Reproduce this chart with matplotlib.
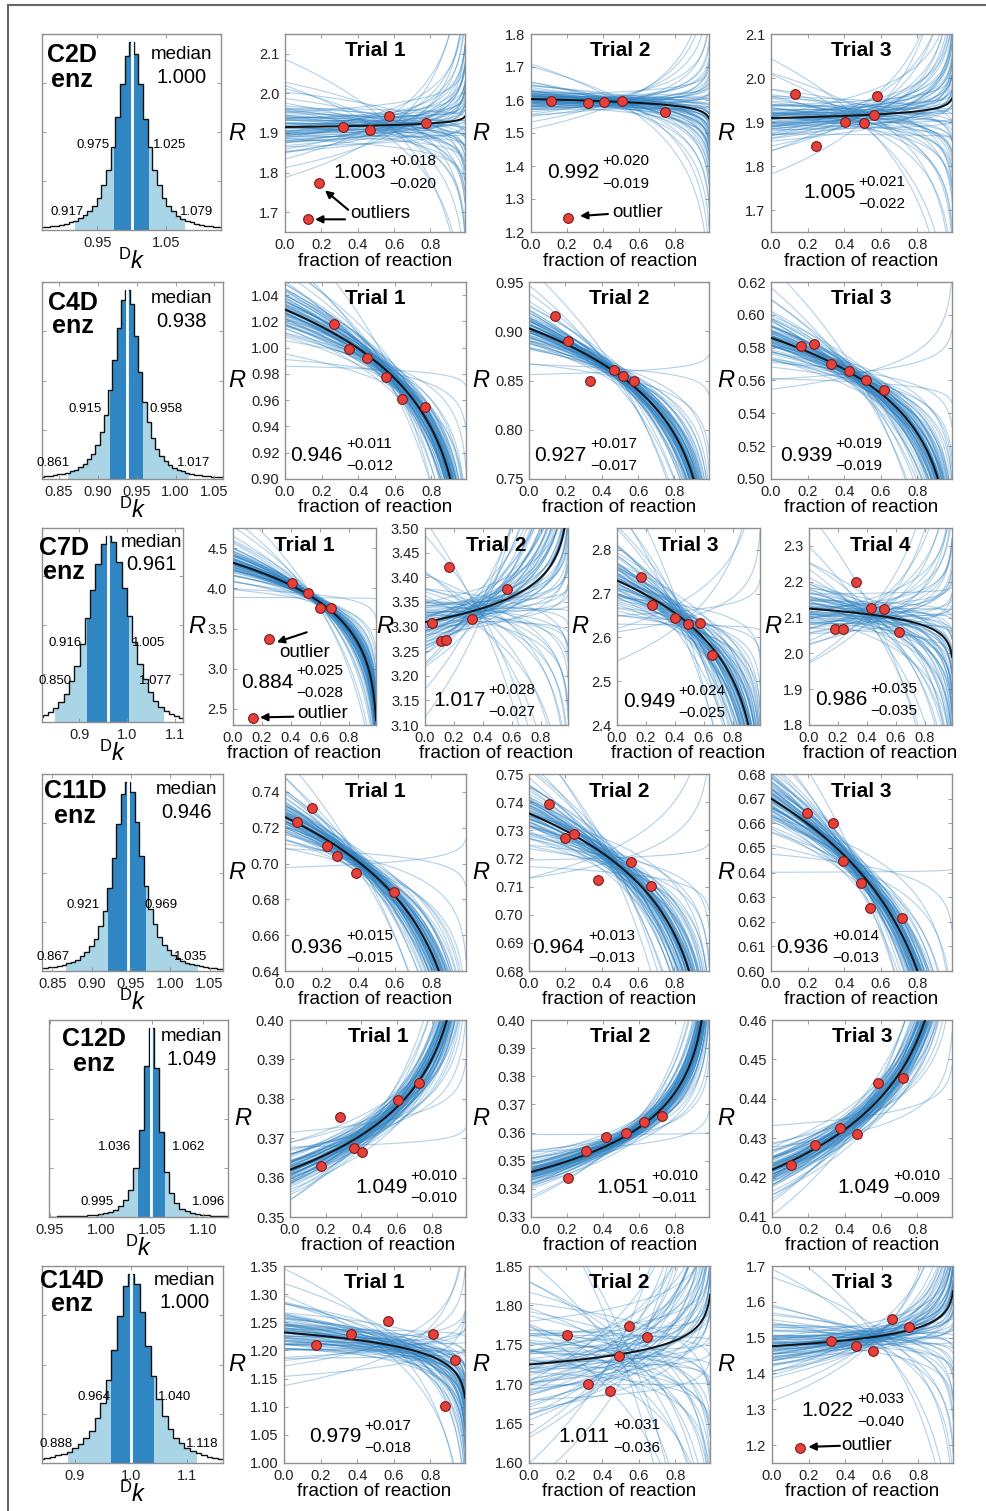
import numpy as np
import matplotlib
matplotlib.use("Agg")
import matplotlib.pyplot as plt
from matplotlib.collections import LineCollection
from matplotlib.lines import Line2D

plt.rcParams['font.family'] = ['Liberation Sans', 'DejaVu Sans']
plt.rcParams['mathtext.fontset'] = 'custom'
plt.rcParams['mathtext.rm'] = 'Liberation Sans'
plt.rcParams['mathtext.it'] = 'Liberation Sans:italic'
plt.rcParams['mathtext.bf'] = 'Liberation Sans:bold'

# ------------------------------------------------------------------ data
compounds = ['C2D', 'C4D', 'C7D', 'C11D', 'C12D', 'C14D']
hist_median = [1.000, 0.938, 0.961, 0.946, 1.049, 1.000]
hist_inner = [(0.975, 1.025), (0.915, 0.958), (0.916, 1.005),
              (0.921, 0.969), (1.036, 1.062), (0.964, 1.040)]
hist_outer = [(0.917, 1.079), (0.861, 1.017), (0.850, 1.077),
              (0.867, 1.035), (0.995, 1.096), (0.888, 1.118)]
hist_start = [0.8402, 0.81425, 0.8125, 0.8271, 0.9465, 0.795]
hist_width = [0.0068, 0.0055, 0.011, 0.0058, 0.005, 0.010]

hist_C2D = [0.8, 0.9, 1.0, 1.2, 1.4, 1.6, 1.9, 2.3, 2.8, 3.3, 4.0, 4.9, 6.2, 7.8, 10, 13, 17,
            24, 32, 44, 60, 78, 93, 100, 94, 78, 59, 44, 32, 24, 17, 13, 10, 7.7, 6.1, 4.9,
            4.0, 3.3, 2.7, 2.3, 1.9, 1.6, 1.4, 1.2, 1.05, 0.9, 0.8]
hist_C4D = [0.9, 1.0, 1.2, 1.4, 1.7, 2.0, 2.4, 2.8, 3.4, 4.1, 5.0, 6.3, 8.0, 10.5, 13.5, 18,
            25, 34, 47, 63, 80, 95, 100, 93, 76, 57, 41, 30, 22, 16, 12, 9.5, 7.5, 6.0, 4.8,
            4.0, 3.3, 2.7, 2.3, 1.9, 1.6, 1.4, 1.2, 1.05, 0.9, 0.8, 0.72, 0.64]
hist_C7D = [2.8, 3.9, 5.5, 7.7, 11, 15, 22, 30, 42, 56, 71, 85, 96, 100, 97, 86, 72, 57, 43,
            31, 23, 16, 11.5, 8.2, 5.9, 4.2, 3.0, 2.2]
hist_C11D = [1.2, 1.4, 1.6, 1.9, 2.3, 2.7, 3.3, 4.0, 4.9, 6.1, 7.8, 10, 13, 17, 24, 32, 44, 60,
             78, 94, 100, 95, 79, 61, 45, 33, 25, 18, 14, 11, 8.5, 6.8, 5.5, 4.5, 3.7, 3.0,
             2.5, 2.1, 1.8, 1.5, 1.3, 1.1, 0.95]
hist_C12D = [0.22, 0.24, 0.27, 0.3, 0.36, 0.44, 0.55, 0.68, 0.85, 1.1, 1.4, 1.9, 2.7, 3.8,
             5.6, 8.8, 14.5, 26, 46, 80, 100, 79, 45, 24, 12.5, 7.3, 4.5, 3.0, 2.1, 1.5, 1.1,
             0.85, 0.68, 0.54, 0.44, 0.36]
hist_C14D = [1.2, 1.4, 1.6, 1.9, 2.3, 2.7, 3.3, 4.0, 4.9, 6.1, 7.8, 10, 13, 17, 24, 32, 44, 60,
             78, 94, 100, 95, 80, 62, 46, 34, 25, 18, 13.5, 10.5, 8.2, 6.4, 5.1, 4.2, 3.4,
             2.8, 2.3, 1.9, 1.6, 1.4, 1.2]
hist_heights = [hist_C2D, hist_C4D, hist_C7D, hist_C11D, hist_C12D, hist_C14D]

# measured points (fraction of reaction, R) per trial
C2D_f = [[0.127, 0.188, 0.321, 0.47, 0.57, 0.778],
         [0.111, 0.206, 0.317, 0.406, 0.506, 0.745],
         [0.134, 0.248, 0.404, 0.508, 0.563, 0.582]]
C2D_R = [[1.682, 1.773, 1.915, 1.908, 1.942, 1.924],
         [1.597, 1.242, 1.591, 1.594, 1.597, 1.564],
         [1.963, 1.846, 1.900, 1.897, 1.915, 1.958]]
C4D_f = [[0.268, 0.350, 0.449, 0.552, 0.640, 0.766],
         [0.143, 0.215, 0.336, 0.468, 0.517, 0.578],
         [0.164, 0.235, 0.328, 0.427, 0.52, 0.618]]
C4D_R = [[1.018, 0.999, 0.992, 0.978, 0.961, 0.955],
         [0.9155, 0.890, 0.849, 0.861, 0.855, 0.849],
         [0.581, 0.582, 0.570, 0.566, 0.560, 0.554]]
C7D_f = [[0.139, 0.249, 0.408, 0.519, 0.605, 0.677],
         [0.048, 0.111, 0.145, 0.166, 0.325, 0.568],
         [0.165, 0.24, 0.40, 0.49, 0.575, 0.655],
         [0.18, 0.235, 0.325, 0.43, 0.52, 0.623]]
C7D_R = [[2.387, 3.375, 4.068, 3.944, 3.760, 3.760],
         [3.307, 3.271, 3.272, 3.421, 3.315, 3.376],
         [2.739, 2.674, 2.644, 2.631, 2.634, 2.56],
         [2.067, 2.069, 2.200, 2.128, 2.125, 2.061]]
C11D_f = [[0.066, 0.148, 0.23, 0.284, 0.388, 0.596],
          [0.11, 0.2, 0.25, 0.38, 0.56, 0.67],
          [0.197, 0.339, 0.394, 0.492, 0.541, 0.717]]
C11D_R = [[0.723, 0.731, 0.710, 0.704, 0.695, 0.684],
          [0.7393, 0.7273, 0.7287, 0.7123, 0.7187, 0.7102],
          [0.6642, 0.6601, 0.6447, 0.6357, 0.6256, 0.6215]]
C12D_f = [[0.174, 0.281, 0.360, 0.405, 0.607, 0.726],
          [0.206, 0.306, 0.417, 0.528, 0.628, 0.729],
          [0.105, 0.237, 0.374, 0.468, 0.583, 0.72]]
C12D_R = [[0.363, 0.3754, 0.3675, 0.3665, 0.3797, 0.384],
          [0.3439, 0.3535, 0.3584, 0.3599, 0.3638, 0.3659],
          [0.4232, 0.4283, 0.4326, 0.4311, 0.444, 0.4453]]
C14D_f = [[0.175, 0.367, 0.569, 0.815, 0.88, 0.935],
          [0.21, 0.324, 0.443, 0.491, 0.547, 0.647],
          [0.151, 0.323, 0.461, 0.554, 0.656, 0.749]]
C14D_R = [[1.210, 1.229, 1.252, 1.229, 1.101, 1.183],
          [1.762, 1.700, 1.692, 1.736, 1.774, 1.760],
          [1.192, 1.492, 1.477, 1.463, 1.553, 1.529]]

# fitted KIE (median, +err, -err) and fitted initial ratio R0 per trial
C2D_kie = [1.003, 0.992, 1.005];  C2D_plus = [0.018, 0.020, 0.021];  C2D_minus = [0.020, 0.019, 0.022]
C4D_kie = [0.946, 0.927, 0.939];  C4D_plus = [0.011, 0.017, 0.019];  C4D_minus = [0.012, 0.017, 0.019]
C7D_kie = [0.884, 1.017, 0.949, 0.986]; C7D_plus = [0.025, 0.028, 0.024, 0.035]; C7D_minus = [0.028, 0.027, 0.025, 0.035]
C11D_kie = [0.936, 0.964, 0.936]; C11D_plus = [0.015, 0.013, 0.014]; C11D_minus = [0.015, 0.013, 0.013]
C12D_kie = [1.049, 1.051, 1.049]; C12D_plus = [0.010, 0.010, 0.010]; C12D_minus = [0.010, 0.011, 0.009]
C14D_kie = [0.979, 1.011, 1.022]; C14D_plus = [0.017, 0.031, 0.033]; C14D_minus = [0.018, 0.036, 0.040]
C2D_R0 = [1.915, 1.603, 1.909]
C4D_R0 = [1.029, 0.903, 0.586]
C7D_R0 = [4.318, 3.309, 2.73, 2.125]
C11D_R0 = [0.726, 0.736, 0.670]
C12D_R0 = [0.362, 0.346, 0.422]
C14D_R0 = [1.232, 1.725, 1.476]

# posterior draws (standardised KIE offsets and R-level offsets)
ens_z_half = [0.014, 0.041, 0.068, 0.095, 0.122, 0.150, 0.178, 0.206, 0.235, 0.264, 0.294,
              0.324, 0.355, 0.387, 0.420, 0.454, 0.489, 0.525, 0.563, 0.602, 0.644, 0.688,
              0.734, 0.783, 0.836, 0.893, 0.954, 1.021, 1.095, 1.178, 1.271, 1.378, 1.504,
              1.653, 1.839, 2.078, 2.406, 2.906, 3.827, 4.600]
ens_r = [0.47, -1.12, 0.05, 1.59, -0.30, -0.82, 0.91, -0.11, 2.08, -0.58, 0.24, -1.48, 0.65,
         -0.02, 1.18, -0.37, -2.50, 0.33, 0.78, -0.96, 0.14, -1.71, 1.40, -0.20, 0.54, -0.69,
         1.01, -0.08, -1.25, 0.40, 1.86, -0.51, 0.11, -0.86, 0.62, -1.32, 0.27, -0.14, 1.06,
         -0.44, -0.05, 0.96, -1.59, 0.20, -0.65, 1.25, -0.27, 0.51, -2.08, 0.86, -0.33, 0.02,
         1.48, -0.91, 0.37, -1.18, 0.69, -0.24, 2.50, -0.47, 0.08, -1.01, 1.12, -0.62, 0.44,
         -1.86, 0.17, -0.40, 1.32, -0.78, 0.58, -0.17, -1.06, 0.82, 1.71, -0.54, 0.30, -1.40,
         0.73, -0.73]
ens_z = [-v for v in reversed(ens_z_half)] + ens_z_half

all_f = [C2D_f, C4D_f, C7D_f, C11D_f, C12D_f, C14D_f]
all_R = [C2D_R, C4D_R, C7D_R, C11D_R, C12D_R, C14D_R]
all_kie = [C2D_kie, C4D_kie, C7D_kie, C11D_kie, C12D_kie, C14D_kie]
all_plus = [C2D_plus, C4D_plus, C7D_plus, C11D_plus, C12D_plus, C14D_plus]
all_minus = [C2D_minus, C4D_minus, C7D_minus, C11D_minus, C12D_minus, C14D_minus]
all_R0 = [C2D_R0, C4D_R0, C7D_R0, C11D_R0, C12D_R0, C14D_R0]

# ------------------------------------------------------------------ layout
FW, FH = 986, 1511
panel_boxes = [
    [(42, 34, 221, 230), (285, 34, 465, 232), (531, 34, 709, 232), (771, 34, 952, 232)],
    [(42, 282, 223, 479), (285, 282, 466, 479), (529, 282, 709, 479), (771, 282, 952, 479)],
    [(42, 528, 183, 722), (233, 528, 376, 725), (425, 528, 568, 725), (617, 528, 760, 725),
     (809, 528, 952, 725)],
    [(42, 774, 223, 971), (285, 774, 466, 971), (529, 774, 709, 971), (771, 774, 952, 971)],
    [(49, 1020, 228, 1217), (290, 1020, 466, 1217), (531, 1020, 709, 1217), (772, 1020, 952, 1217)],
    [(42, 1266, 223, 1463), (284, 1266, 465, 1463), (529, 1266, 710, 1463), (772, 1266, 953, 1463)],
]
R_label_x = [[237, 481, 726], [237, 481, 726], [197, 385, 580, 773],
             [237, 481, 726], [243, 481, 726], [237, 481, 726]]
trial_ylim = [[(1.65, 2.15), (1.2, 1.8), (1.65, 2.1)],
              [(0.90, 1.05), (0.75, 0.95), (0.50, 0.62)],
              [(2.3, 4.75), (3.10, 3.50), (2.4, 2.85), (1.8, 2.35)],
              [(0.64, 0.75), (0.68, 0.75), (0.60, 0.68)],
              [(0.35, 0.40), (0.33, 0.40), (0.41, 0.46)],
              [(1.00, 1.35), (1.60, 1.85), (1.15, 1.70)]]
trial_yticks = [[(1.7, 2.1, 0.1, 1), (1.2, 1.8, 0.1, 1), (1.7, 2.1, 0.1, 1)],
                [(0.90, 1.04, 0.02, 2), (0.75, 0.95, 0.05, 2), (0.50, 0.62, 0.02, 2)],
                [(2.5, 4.5, 0.5, 1), (3.10, 3.50, 0.05, 2), (2.4, 2.8, 0.1, 1), (1.8, 2.3, 0.1, 1)],
                [(0.64, 0.74, 0.02, 2), (0.68, 0.75, 0.01, 2), (0.60, 0.68, 0.01, 2)],
                [(0.35, 0.40, 0.01, 2), (0.33, 0.40, 0.01, 2), (0.41, 0.46, 0.01, 2)],
                [(1.00, 1.35, 0.05, 2), (1.60, 1.85, 0.05, 2), (1.2, 1.7, 0.1, 1)]]
kie_pos = [[(0.27, 0.30), (0.09, 0.30), (0.177, 0.197)],
           [(0.03, 0.12), (0.03, 0.12), (0.05, 0.12)],
           [(0.056, 0.218), (0.056, 0.122), (0.04, 0.118), (0.04, 0.127)],
           [(0.03, 0.12), (0.02, 0.12), (0.03, 0.12)],
           [(0.37, 0.152), (0.365, 0.152), (0.365, 0.152)],
           [(0.138, 0.132), (0.16, 0.134), (0.162, 0.267)]]
ens_fc = [[0.55, 0.45, 0.45], [0.55, 0.45, 0.45], [0.55, 0.35, 0.45, 0.40],
          [0.40, 0.45, 0.45], [0.45, 0.5, 0.45], [0.6, 0.5, 0.55]]
ens_rs = [[0.011, 0.007, 0.009], [0.005, 0.005, 0.006], [0.007, 0.005, 0.007, 0.011],
          [0.004, 0.0035, 0.0045], [0.005, 0.0045, 0.0045], [0.011, 0.014, 0.011]]
outlier_notes = [
    (0, 0, 'outliers', (0.361, 0.094), [((0.348, 1.706), (0.22, 1.755)), ((0.33, 1.682), (0.165, 1.682))]),
    (0, 1, 'outlier', (0.455, 0.096), [((0.428, 1.2545), (0.2725, 1.2485))]),
    (2, 0, 'outlier', (0.32, 0.37), [((0.51, 3.453), (0.303, 3.33))]),
    (2, 0, 'outlier', (0.447, 0.056), [((0.418, 2.403), (0.187, 2.395))]),
    (5, 2, 'outlier', (0.385, 0.091), [((0.372, 1.198), (0.199, 1.195))]),
]
hist_xlim = [(0.869, 1.131), (0.828, 1.061), (0.822, 1.117), (0.837, 1.067), (0.949, 1.124), (0.841, 1.164)]
hist_xticks = [([0.95, 1.05], 2), ([0.85, 0.90, 0.95, 1.00, 1.05], 2), ([0.9, 1.0, 1.1], 1),
               ([0.85, 0.90, 0.95, 1.00, 1.05], 2), ([0.95, 1.00, 1.05, 1.10], 2), ([0.9, 1.0, 1.1], 1)]
# (name x, name y1, name y2, median x, median y1, median y2)
hist_title_pos = [(0.166, 0.893, 0.765, 0.78, 0.893, 0.78),
                  (0.169, 0.893, 0.777, 0.772, 0.917, 0.798),
                  (0.157, 0.898, 0.772, 0.778, 0.924, 0.812),
                  (0.182, 0.912, 0.786, 0.796, 0.919, 0.807),
                  (0.25, 0.905, 0.775, 0.797, 0.915, 0.797),
                  (0.164, 0.925, 0.807, 0.786, 0.925, 0.815)]
# (inner lo right x, inner hi left x, inner y, outer lo right x, outer hi left x, outer y)
hist_lab_pos = [(0.38, 0.62, 0.434, 0.235, 0.77, 0.092),
                (0.33, 0.593, 0.354, 0.151, 0.744, 0.081),
                (0.28, 0.636, 0.406, 0.21, 0.69, 0.212),
                (0.32, 0.569, 0.335, 0.15, 0.729, 0.073),
                (0.462, 0.685, 0.357, 0.359, 0.797, 0.078),
                (0.38, 0.643, 0.337, 0.17, 0.796, 0.096)]

DARK = '#2f86c3'
LIGHT = '#a9d5e6'
LINEBLUE = '#2a7fc0'
SPINE = '#8f8f8f'

fig = plt.figure(figsize=(FW / 100, FH / 100), dpi=100)


def add_ax(box):
    x0, y0, x1, y1 = box
    return fig.add_axes([x0 / FW, 1 - y1 / FH, (x1 - x0) / FW, (y1 - y0) / FH])


def style(ax):
    for s in ax.spines.values():
        s.set_color(SPINE)
        s.set_linewidth(1.0)
    ax.tick_params(direction='in', length=3, width=0.6, color=SPINE, labelsize=10.5,
                   labelcolor='#222222', top=True, right=True, pad=4)


def model(f, R0, k):
    return R0 * (1.0 - f) ** (1.0 / k - 1.0)


fgrid = np.linspace(0.0, 0.99, 300)

for row, name in enumerate(compounds):
    boxes = panel_boxes[row]
    # ---------------- histogram
    ax = add_ax(boxes[0])
    style(ax)
    h = np.asarray(hist_heights[row], float)
    edges = hist_start[row] + hist_width[row] * np.arange(len(h) + 1)

    def band(a, b, color):
        inside = edges[(edges > a) & (edges < b)]
        xs = np.concatenate([[a], inside, [b]])
        idx = np.clip(np.searchsorted(edges, xs, side='right') - 1, 0, len(h) - 1)
        ax.fill_between(xs, 0, h[idx], step='post', color=color, lw=0)

    band(*hist_outer[row], LIGHT)
    band(*hist_inner[row], DARK)
    ax.stairs(h, edges, color='#111111', lw=1.0)
    med = hist_median[row]
    mi = int(np.clip(np.searchsorted(edges, med, side='right') - 1, 0, len(h) - 1))
    ax.plot([med, med], [0, h[mi]], color='white', lw=2.0)
    ax.set_xlim(*hist_xlim[row])
    ax.set_ylim(0, 104.5)
    ax.set_yticks([26.1, 52.2, 78.4])
    ax.set_yticklabels([])
    tks, dec = hist_xticks[row]
    ax.set_xticks(tks)
    ax.set_xticklabels([f'{t:.{dec}f}' for t in tks])
    nx, ny1, ny2, mx, my1, my2 = hist_title_pos[row]
    ax.text(nx, ny1, name, transform=ax.transAxes, ha='center', va='center',
            fontsize=18, fontweight='bold')
    ax.text(nx, ny2, 'enz', transform=ax.transAxes, ha='center', va='center',
            fontsize=18, fontweight='bold')
    ax.text(mx, my1, 'median', transform=ax.transAxes, ha='center', va='center', fontsize=13.5)
    ax.text(mx, my2, f'{med:.3f}', transform=ax.transAxes, ha='center', va='center', fontsize=14.5)
    ilx, ihx, iy, olx, ohx, oy = hist_lab_pos[row]
    lo_in, hi_in = hist_inner[row]
    lo_out, hi_out = hist_outer[row]
    ax.text(ilx, iy, f'{lo_in:.3f}', transform=ax.transAxes, ha='right', va='center', fontsize=9.5)
    ax.text(ihx, iy, f'{hi_in:.3f}', transform=ax.transAxes, ha='left', va='center', fontsize=9.5)
    ax.text(olx, oy, f'{lo_out:.3f}', transform=ax.transAxes, ha='right', va='center', fontsize=9.5)
    ax.text(ohx, oy, f'{hi_out:.3f}', transform=ax.transAxes, ha='left', va='center', fontsize=9.5)
    x0, y0, x1, y1 = boxes[0]
    fig.text((x0 + x1) / 2 / FW, 1 - (y1 + 31) / FH, r'$^{\mathrm{D}}k$', ha='center',
             va='center', fontsize=17)

    # ---------------- trials
    for t in range(len(all_kie[row])):
        box = boxes[t + 1]
        ax = add_ax(box)
        style(ax)
        k = all_kie[row][t]
        p = all_plus[row][t]
        m = all_minus[row][t]
        R0 = all_R0[row][t]
        fc = ens_fc[row][t]
        rs = ens_rs[row][t]
        Rc = model(fc, R0, k)
        zs = np.asarray(ens_z)
        rr = np.roll(np.asarray(ens_r), 7 * (row * 4 + t))
        ks = k + np.where(zs > 0, zs * p, zs * m)
        R0s = Rc * (1 + rs * rr) / (1 - fc) ** (1.0 / ks - 1.0)
        segs = [np.column_stack([fgrid, model(fgrid, R0s[i], ks[i])]) for i in range(len(ks))]
        ax.add_collection(LineCollection(segs, colors=LINEBLUE, alpha=0.36, linewidths=0.8))
        ax.plot(fgrid, model(fgrid, R0, k), color='#111111', lw=1.4, zorder=3)
        ax.plot(all_f[row][t], all_R[row][t], 'o', ms=7, mfc='#e5413a', mec='#7a1c1c',
                mew=0.8, zorder=4)
        ax.set_xlim(0, 0.99)
        ax.set_ylim(*trial_ylim[row][t])
        a, b, st, dec = trial_yticks[row][t]
        yt = np.arange(a, b + st / 2, st)
        ax.set_yticks(yt)
        ax.set_yticklabels([f'{v:.{dec}f}' for v in yt])
        xt = [0.0, 0.2, 0.4, 0.6, 0.8]
        ax.set_xticks(xt)
        ax.set_xticklabels([f'{v:.1f}' for v in xt])
        hpx = box[3] - box[1]
        ax.text(0.5, 1 - 17 / hpx, f'Trial {t + 1}', transform=ax.transAxes, ha='center',
                va='center', fontsize=15, fontweight='bold')
        xf, yf = kie_pos[row][t]
        ax.text(xf, yf, f'{k:.3f}', transform=ax.transAxes, ha='left', va='center', fontsize=15)
        ax.annotate(f'+{p:.3f}', xy=(xf, yf), xycoords='axes fraction', xytext=(40, 8),
                    textcoords='offset points', ha='left', va='center', fontsize=11)
        ax.annotate('\u2212' + f'{m:.3f}', xy=(xf, yf), xycoords='axes fraction',
                    xytext=(40, -8), textcoords='offset points', ha='left', va='center',
                    fontsize=11)
        fig.text(R_label_x[row][t] / FW, 1 - (box[1] + box[3]) / 2 / FH, 'R', ha='center',
                 va='center', fontsize=17, fontstyle='italic')
        fig.text((box[0] + box[2]) / 2 / FW, 1 - (box[3] + 29) / FH, 'fraction of reaction',
                 ha='center', va='center', fontsize=13.5)
        for (r_, c_, txt, tpos, arrows) in outlier_notes:
            if r_ == row and c_ == t:
                ax.text(tpos[0], tpos[1], txt, transform=ax.transAxes, ha='left',
                        va='center', fontsize=13.5)
                for tail, head in arrows:
                    ax.annotate('', xy=head, xytext=tail,
                                arrowprops=dict(arrowstyle='-|>', color='black', lw=1.5,
                                                mutation_scale=11, shrinkA=0, shrinkB=0))

# outer frame (top and left edges)
fig.add_artist(Line2D([8 / FW, 8 / FW], [0, 1 - 5 / FH], transform=fig.transFigure,
                      color='#666666', lw=1.5))
fig.add_artist(Line2D([8 / FW, 1], [1 - 5 / FH, 1 - 5 / FH], transform=fig.transFigure,
                      color='#666666', lw=1.5))

fig.savefig('out.png', dpi=100)
